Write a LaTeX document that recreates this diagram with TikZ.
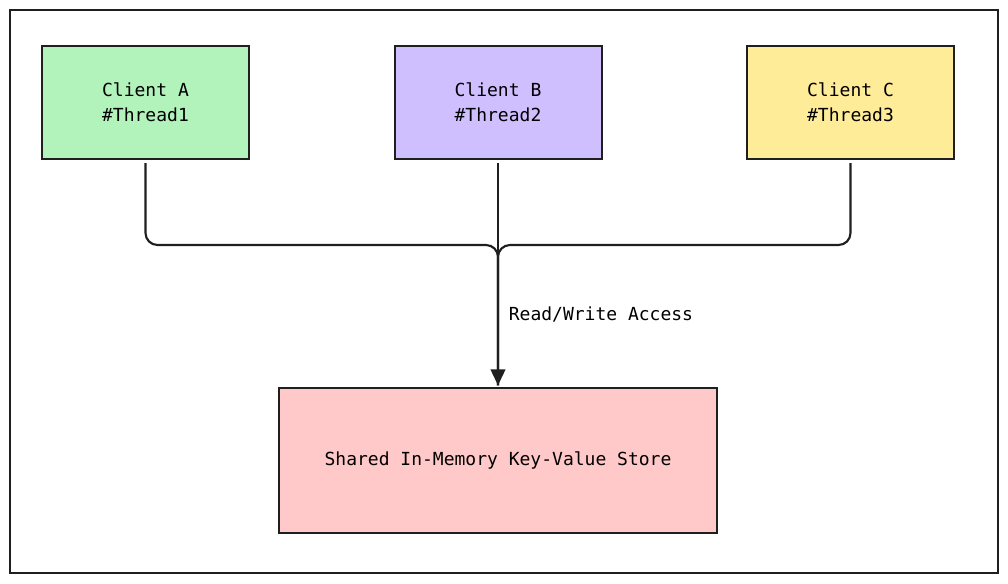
\documentclass[tikz,border=0pt]{standalone}
\usepackage{fontspec}
\setmonofont{DejaVu Sans Mono}
\usetikzlibrary{arrows.meta}

\begin{document}
\begin{tikzpicture}[x=0.75pt, y=-0.75pt,
    font=\ttfamily\fontsize{13.5pt}{18.75pt}\selectfont,
    box/.style={draw=black!88, line width=1.5pt, inner sep=0pt, outer sep=0pt, align=center},
    client/.style={box, minimum width=155.25pt, minimum height=84.75pt},
    link/.style={draw=black!88, line width=1.6pt, rounded corners=9pt}]
      \useasboundingbox (0, 0) rectangle (1008, 583);
      \draw[line width=1.5pt, black!88] (10, 10) rectangle (998, 573);

      \node[client, fill={rgb,255:red,178;green,242;blue,187}] (clientA) at (145.5, 102.5) {Client A\\\#Thread1};
      \node[client, fill={rgb,255:red,208;green,191;blue,255}] (clientB) at (498, 102.5) {Client B\\\#Thread2};
      \node[client, fill={rgb,255:red,255;green,236;blue,153}] (clientC) at (850.5, 102.5) {Client C\\\#Thread3};

      \node[box, minimum width=328.5pt, minimum height=108.75pt,
            fill={rgb,255:red,255;green,201;blue,201}] (store) at (498, 460.5) {Shared In-Memory Key-Value Store};

      \path (498, 245) coordinate (join);

      \draw[link] ([yshift=-3pt]clientA.south) -- (clientA.south |- join) -- (join) -- ([yshift=2pt]store.north);
      \draw[link] ([yshift=-3pt]clientC.south) -- (clientC.south |- join) -- (join) -- ([yshift=2pt]store.north);
      \draw[link, -{Triangle[length=12pt, width=11pt]}] ([yshift=-3pt]clientB.south) -- ([yshift=2pt]store.north)
        node[pos=0.68, right=4pt] (access) {Read/Write Access};
    \end{tikzpicture}
\end{document}
